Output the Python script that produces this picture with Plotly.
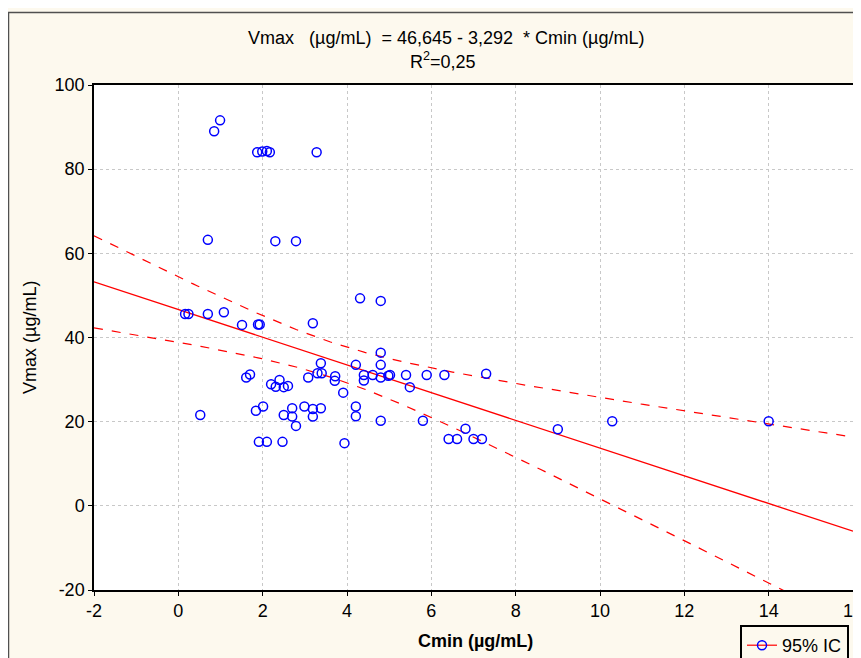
import numpy as np
import plotly.graph_objects as go

# Data
cmin = [0.99, 0.85, 1.87, 1.99, 2.10, 2.17, 3.28, 0.70, 2.30, 2.79,
        0.16, 0.24, 0.70, 1.08, 1.51, 1.89, 1.93, 3.19, 4.31, 4.80,
        4.80, 4.21, 4.80, 3.38, 3.30, 3.40, 3.08, 3.72, 3.71, 3.91,
        1.61, 1.70, 2.20, 2.40, 2.31, 2.50, 2.60, 0.52, 1.84, 2.01,
        2.50, 2.70, 2.70, 2.79, 2.99, 3.19, 3.19, 3.38, 1.91, 2.10,
        2.47, 3.94, 4.21, 4.21, 4.40, 4.40, 4.61, 4.80, 4.98, 5.02,
        5.40, 5.49, 5.89, 6.31, 7.30, 4.80, 5.80, 6.81, 6.41, 6.61,
        7.00, 7.20, 9.00, 10.29, 14.00]
vmax = [91.6, 89.0, 84.0, 84.2, 84.3, 84.0, 84.0, 63.2, 62.9, 62.9,
        45.6, 45.6, 45.6, 46.0, 43.0, 43.1, 43.1, 43.4, 49.3, 48.7,
        36.4, 33.5, 33.5, 33.9, 31.5, 31.5, 30.5, 30.8, 29.7, 26.9,
        30.5, 31.2, 28.9, 29.9, 28.3, 28.2, 28.5, 21.6, 22.6, 23.6,
        21.6, 23.2, 21.2, 19.0, 23.6, 23.0, 21.2, 23.2, 15.2, 15.2,
        15.2, 14.9, 23.6, 21.3, 31.1, 29.8, 31.1, 30.5, 30.9, 31.1,
        31.1, 28.2, 31.1, 31.1, 31.4, 20.2, 20.2, 18.3, 15.9, 15.9,
        15.9, 15.9, 18.2, 20.1, 20.1]

intercept = 46.645
slope = -3.292
r2_label = "0,25"
x_ticks = [-2, 0, 2, 4, 6, 8, 10, 12, 14, 16]
x_ticklabels = ["-2", "0", "2", "4", "6", "8", "10", "12", "14", "16"]
y_ticks = [-20, 0, 20, 40, 60, 80, 100]
y_ticklabels = ["-20", "0", "20", "40", "60", "80", "100"]

# Regression line and 95% confidence band
xa = np.array(cmin)
ya = np.array(vmax)
n = len(xa)
xbar = xa.mean()
sxx = ((xa - xbar) ** 2).sum()
resid = ya - (intercept + slope * xa)
s = np.sqrt((resid ** 2).sum() / (n - 2))
t95 = 1.993
xg = np.linspace(-2, 16, 200)
yfit = intercept + slope * xg
half = t95 * s * np.sqrt(1.0 / n + (xg - xbar) ** 2 / sxx)

FONT = "Liberation Sans, Arial, sans-serif"
FS = 18
fig = go.Figure()
fig.add_trace(go.Scatter(x=xg, y=yfit + half, mode="lines", showlegend=False,
                         line=dict(color="#FF0000", width=1.2, dash="dash"), hoverinfo="skip"))
fig.add_trace(go.Scatter(x=xg, y=yfit - half, mode="lines", showlegend=False,
                         line=dict(color="#FF0000", width=1.2, dash="dash"), hoverinfo="skip"))
fig.add_trace(go.Scatter(x=xg, y=yfit, mode="lines", showlegend=False,
                         line=dict(color="#FF0000", width=1.3), hoverinfo="skip"))
fig.add_trace(go.Scatter(x=cmin, y=vmax, mode="markers", showlegend=False,
                         marker=dict(symbol="circle-open", size=9, color="#0000FF",
                                     line=dict(width=1.5, color="#0000FF"))))
fig.add_trace(go.Scatter(x=[None], y=[None], mode="lines+markers", name="95% IC",
                         line=dict(color="#FF0000", width=1.2),
                         marker=dict(symbol="circle-open", size=9, color="#0000FF",
                                     line=dict(width=1.5, color="#0000FF"))))

# page body margin offsets the figure by 8 px; positions below are screen pixels
OFF = 8
W, H = 861, 658
left_s, right_s, top_s, bottom_s = 94, 853, 85, 590
L = left_s - OFF
T = top_s - OFF
R = W - (right_s - OFF)
B = H - (bottom_s - OFF)
pw, ph = W - L - R, H - T - B

def px_x(p):
    return (p - OFF - L) / pw

def px_y(p):
    return (H - B - (p - OFF)) / ph

axis_common = dict(showline=True, linecolor="black", linewidth=1.5, mirror=True,
                   ticks="outside", ticklen=4, tickcolor="black", tickwidth=1,
                   showgrid=True, gridcolor="#C8C8C8", griddash="dot", gridwidth=1,
                   zeroline=False, automargin=False,
                   tickfont=dict(family=FONT, size=FS, color="black"))

fig.update_layout(
    width=W, height=H,
    margin=dict(l=L, r=R, t=T, b=B, autoexpand=False),
    paper_bgcolor="#FDF9EE", plot_bgcolor="white",
    font=dict(family=FONT, size=FS, color="black"),
    xaxis=dict(range=[-2, 16], tickvals=x_ticks, ticktext=x_ticklabels, **axis_common),
    yaxis=dict(range=[-20, 100], tickvals=y_ticks, ticktext=y_ticklabels, **axis_common),
    showlegend=True,
    legend=dict(x=px_x(740), y=px_y(625), xanchor="left", yanchor="top",
                bgcolor="#FDF9EE", bordercolor="black", borderwidth=2,
                font=dict(family=FONT, size=FS, color="black"),
                itemwidth=30, tracegroupgap=0),
    annotations=[
        dict(text="Vmax   (µg/mL)  = 46,645 - 3,292  * Cmin (µg/mL)",
             x=px_x(446), y=px_y(38), xref="paper", yref="paper",
             showarrow=False, xanchor="center", yanchor="middle",
             font=dict(family=FONT, size=FS)),
        dict(text="R<sup>2</sup>=" + r2_label,
             x=px_x(443), y=px_y(61), xref="paper", yref="paper",
             showarrow=False, xanchor="center", yanchor="middle",
             font=dict(family=FONT, size=FS)),
        dict(text="<b>Cmin (µg/mL)</b>",
             x=px_x(475), y=px_y(641), xref="paper", yref="paper",
             showarrow=False, xanchor="center", yanchor="middle",
             font=dict(family=FONT, size=FS)),
        dict(text="Vmax (µg/mL)", textangle=-90,
             x=px_x(30), y=px_y(338), xref="paper", yref="paper",
             showarrow=False, xanchor="center", yanchor="middle",
             font=dict(family=FONT, size=FS)),
    ],
    shapes=[
        dict(type="rect", xref="paper", yref="paper",
             x0=px_x(8.5), y0=px_y(720), x1=px_x(920), y1=px_y(12.5),
             line=dict(color="#505050", width=1.5), layer="above"),
    ],
)

fig.write_html("out.html")
